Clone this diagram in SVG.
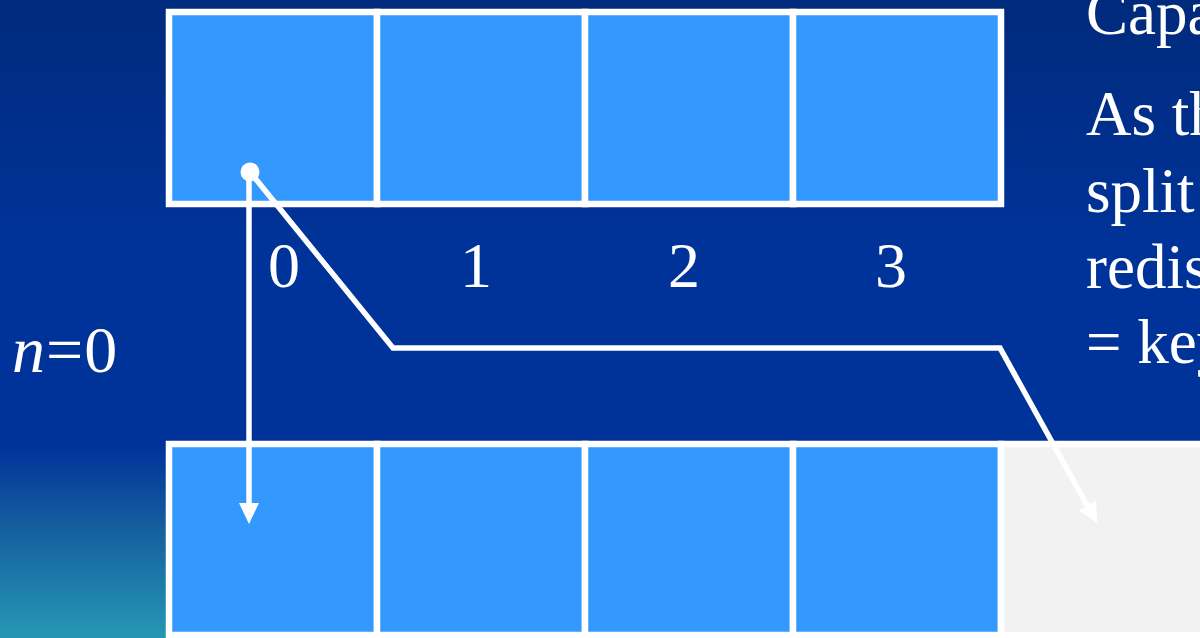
<svg xmlns="http://www.w3.org/2000/svg" width="1200" height="638" viewBox="0 0 1200 638">
  <defs>
    <linearGradient id="bg" x1="0" y1="0" x2="0" y2="638" gradientUnits="userSpaceOnUse">
      <stop offset="0" stop-color="#002A7C"/>
      <stop offset="0.38" stop-color="#003399"/>
      <stop offset="0.70" stop-color="#003399"/>
      <stop offset="0.83" stop-color="#1660A0"/>
      <stop offset="1" stop-color="#2597B5"/>
    </linearGradient>
    <style>
      .cell { fill: #3399FF; stroke: #FFFFFF; stroke-width: 6.5; }
      .empty { fill: #F2F2F2; stroke: #FFFFFF; stroke-width: 6.5; }
      .txt { font-family: "Liberation Serif", "Times New Roman", serif; fill: #FFFFFF; }
      .idx { font-size: 64px; text-anchor: middle; }
      .body { font-size: 63px; }
      .conn { fill: none; stroke: #FFFFFF; stroke-width: 5.5; stroke-linejoin: miter; }
      .head { fill: #FFFFFF; stroke: none; }
    </style>
  </defs>
  <rect x="0" y="0" width="1200" height="638" fill="url(#bg)"/>

  <g id="top-row">
    <rect class="cell" x="169" y="12" width="208" height="192"/>
    <rect class="cell" x="377" y="12" width="208" height="192"/>
    <rect class="cell" x="585" y="12" width="208" height="192"/>
    <rect class="cell" x="793" y="12" width="208" height="192"/>
  </g>

  <g id="indices">
    <text class="txt idx" x="284" y="287">0</text>
    <text class="txt idx" x="476" y="287">1</text>
    <text class="txt idx" x="684" y="287">2</text>
    <text class="txt idx" x="891" y="287">3</text>
  </g>

  <g id="n-label">
    <text class="txt" x="12" y="372" font-size="66" letter-spacing="1"><tspan font-style="italic">n</tspan>=0</text>
  </g>

  <g id="bottom-row">
    <rect class="cell" x="169" y="444" width="208" height="191"/>
    <rect class="cell" x="377" y="444" width="208" height="191"/>
    <rect class="cell" x="585" y="444" width="208" height="191"/>
    <rect class="cell" x="793" y="444" width="208" height="191"/>
    <rect class="empty" x="1001" y="444" width="220" height="191"/>
  </g>

  <g id="notes">
    <text class="txt body" x="1086" y="34">Capa</text>
    <text class="txt body" x="1086" y="135">As th</text>
    <text class="txt body" x="1086" y="212">split</text>
    <text class="txt body" x="1086" y="288">redis</text>
    <text class="txt body" x="1086" y="363">= key</text>
  </g>

  <g id="connectors">
    <circle cx="250" cy="172" r="9.5" fill="#FFFFFF"/>
    <path class="conn" d="M249,172 L249,506"/>
    <polygon class="head" points="239,503 259,503 249,524"/>
    <path class="conn" d="M250,172 L393,348 L1000,348 L1088,507"/>
    <polygon class="head" points="1078.4,510.6 1096.2,500.4 1097,523"/>
  </g>
</svg>
